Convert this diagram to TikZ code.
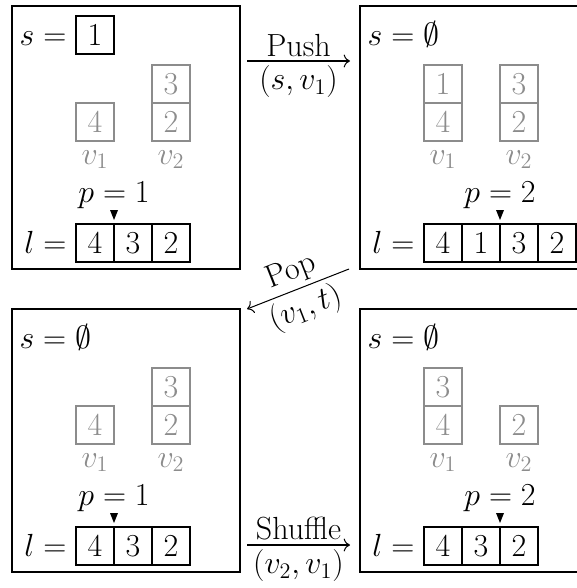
\documentclass[tikz,border=0pt]{standalone}
\usetikzlibrary{arrows.meta}
\begin{document}
\begin{tikzpicture}[x=0.54pt,y=-0.54pt,line width=0.65pt,
  font=\LARGE,
  frame/.style={draw, minimum width=123.12pt, minimum height=142.02pt, inner sep=0pt, outer sep=0pt, anchor=north west},
  cell/.style={draw, minimum size=20.52pt, inner sep=0pt, outer sep=0pt},
  gcell/.style={cell, draw=black!45, text=black!45},
  vlab/.style={text=black!45, anchor=base, inner sep=0pt},
  lab/.style={anchor=base, inner sep=0pt},
  eqlab/.style={anchor=base east, inner sep=0pt},
  ptr/.style={fill=black, draw=none},
  arr/.style={-{To[length=3.4pt,width=7pt]}, line width=0.55pt}]
\useasboundingbox (0,0) rectangle (577,588);
\clip (0,0) rectangle (577,588);

% ---------- state A (top left)
\node[frame] (A) at (12,6) {};
\begin{scope}[shift={(12,6)}]
  \node[cell] (As) at (83,29) {1};
  \node[eqlab] (Aseq) at ([shift={(-9,0)}]As.base west) {$s=$};
  \node[gcell] (Av1a) at (83,116) {4};
  \node[gcell] (Av2b) at (159,78) {3};
  \node[gcell] (Av2a) at (159,116) {2};
  \node[vlab] (Av1) at (83,158) {$v_1$};
  \node[vlab] (Av2) at (159,158) {$v_2$};
  \node[cell] (Al1) at (83,237) {4};
  \node[cell] (Al2) at (121,237) {3};
  \node[cell] (Al3) at (159,237) {2};
  \node[eqlab] (Aleq) at ([shift={(-9,0)}]Al1.base west) {$l=$};
  \coordinate (Ap) at (Al1.north east);
  \fill[ptr] ([shift={(-4,-14)}]Ap) -- ([shift={(4,-14)}]Ap) -- ([shift={(0,-4)}]Ap) -- cycle;
  \node[lab] (Apl) at ([shift={(0,-22)}]Ap) {$p=1$};
\end{scope}

% ---------- state B (top right)
\node[frame] (B) at (360,6) {};
\begin{scope}[shift={(360,6)}]
  \node[lab, anchor=base west] (Bs) at (7,39) {$s=\emptyset$};
  \node[gcell] (Bv1b) at (83,78) {1};
  \node[gcell] (Bv1a) at (83,116) {4};
  \node[gcell] (Bv2b) at (159,78) {3};
  \node[gcell] (Bv2a) at (159,116) {2};
  \node[vlab] (Bv1) at (83,158) {$v_1$};
  \node[vlab] (Bv2) at (159,158) {$v_2$};
  \node[cell] (Bl1) at (83,237) {4};
  \node[cell] (Bl2) at (121,237) {1};
  \node[cell] (Bl3) at (159,237) {3};
  \node[cell] (Bl4) at (197,237) {2};
  \node[eqlab] (Bleq) at ([shift={(-9,0)}]Bl1.base west) {$l=$};
  \coordinate (Bp) at (Bl2.north east);
  \fill[ptr] ([shift={(-4,-14)}]Bp) -- ([shift={(4,-14)}]Bp) -- ([shift={(0,-4)}]Bp) -- cycle;
  \node[lab] (Bpl) at ([shift={(0,-22)}]Bp) {$p=2$};
\end{scope}

% ---------- state C (bottom left)
\node[frame] (C) at (12,309) {};
\begin{scope}[shift={(12,309)}]
  \node[lab, anchor=base west] (Cs) at (7,39) {$s=\emptyset$};
  \node[gcell] (Cv1a) at (83,116) {4};
  \node[gcell] (Cv2b) at (159,78) {3};
  \node[gcell] (Cv2a) at (159,116) {2};
  \node[vlab] (Cv1) at (83,158) {$v_1$};
  \node[vlab] (Cv2) at (159,158) {$v_2$};
  \node[cell] (Cl1) at (83,237) {4};
  \node[cell] (Cl2) at (121,237) {3};
  \node[cell] (Cl3) at (159,237) {2};
  \node[eqlab] (Cleq) at ([shift={(-9,0)}]Cl1.base west) {$l=$};
  \coordinate (Cp) at (Cl1.north east);
  \fill[ptr] ([shift={(-4,-14)}]Cp) -- ([shift={(4,-14)}]Cp) -- ([shift={(0,-4)}]Cp) -- cycle;
  \node[lab] (Cpl) at ([shift={(0,-22)}]Cp) {$p=1$};
\end{scope}

% ---------- state D (bottom right)
\node[frame] (D) at (360,309) {};
\begin{scope}[shift={(360,309)}]
  \node[lab, anchor=base west] (Ds) at (7,39) {$s=\emptyset$};
  \node[gcell] (Dv1b) at (83,78) {3};
  \node[gcell] (Dv1a) at (83,116) {4};
  \node[gcell] (Dv2a) at (159,116) {2};
  \node[vlab] (Dv1) at (83,158) {$v_1$};
  \node[vlab] (Dv2) at (159,158) {$v_2$};
  \node[cell] (Dl1) at (83,237) {4};
  \node[cell] (Dl2) at (121,237) {3};
  \node[cell] (Dl3) at (159,237) {2};
  \node[eqlab] (Dleq) at ([shift={(-9,0)}]Dl1.base west) {$l=$};
  \coordinate (Dp) at (Dl2.north east);
  \fill[ptr] ([shift={(-4,-14)}]Dp) -- ([shift={(4,-14)}]Dp) -- ([shift={(0,-4)}]Dp) -- cycle;
  \node[lab] (Dpl) at ([shift={(0,-22)}]Dp) {$p=2$};
\end{scope}

% ---------- transitions
\draw[arr] ([shift={(7,55)}]A.north east) -- ([shift={(-10,55)}]B.north west)
  node[midway, above, inner sep=2.2pt] {Push}
  node[midway, below, inner sep=2.2pt] {$(s,v_1)$};
\draw[arr] ([shift={(-11,0)}]B.south west) -- ([shift={(7,0)}]C.north east)
  node[midway, sloped, above, inner sep=2.2pt] {Pop}
  node[midway, sloped, below, inner sep=2.2pt] {$(v_1,t)$};
\draw[arr] ([shift={(7,236)}]C.north east) -- ([shift={(-10,236)}]D.north west)
  node[midway, above, inner sep=2.2pt] {Shuffle}
  node[midway, below, inner sep=2.2pt] {$(v_2,v_1)$};
\end{tikzpicture}
\end{document}
